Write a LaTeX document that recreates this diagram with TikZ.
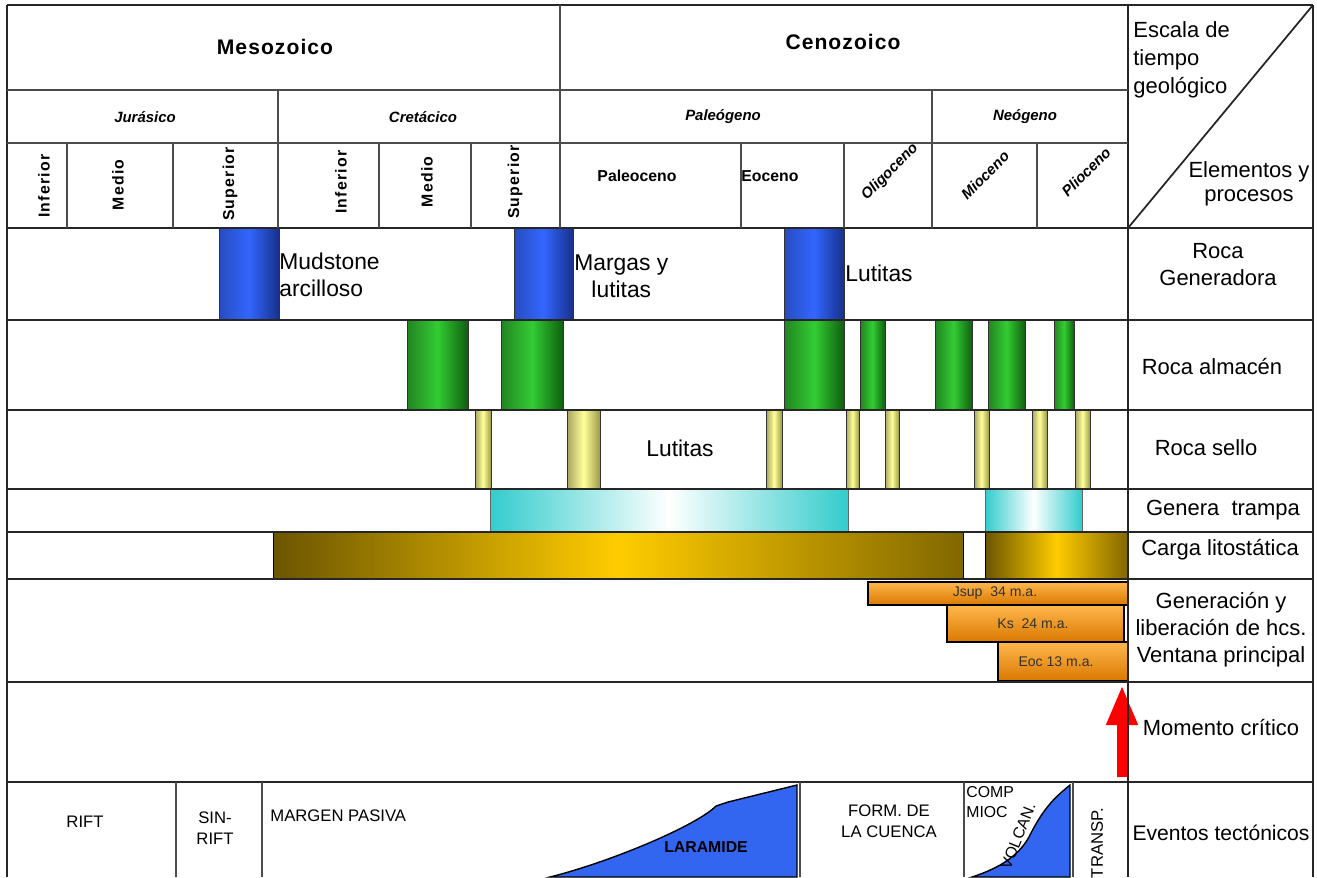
\documentclass[tikz,border=0pt]{standalone}
\usepackage{fontspec}
\setmainfont{Liberation Sans}
\usepackage{tikz}
\usetikzlibrary{arrows.meta}

\definecolor{genblue}{HTML}{3366FF}
\definecolor{genbluedk}{HTML}{17308A}
\definecolor{almgreen}{HTML}{33CC33}
\definecolor{almgreendk}{HTML}{0F5F0F}
\definecolor{sello}{HTML}{FFFF99}
\definecolor{sellodk}{HTML}{9A9A4A}
\definecolor{trampa}{HTML}{33CCCC}
\definecolor{carga}{HTML}{FFCC00}
\definecolor{cargadk}{HTML}{6B5500}
\definecolor{hcslt}{HTML}{FFB84D}
\definecolor{hcsdk}{HTML}{D97800}
\definecolor{tecblue}{HTML}{3366F0}

\begin{document}
\begin{tikzpicture}[x=0.02cm, y=-0.02cm,
		frame/.style={line width=1pt, draw=black!85},
		hline/.style={line width=0.7pt, draw=black!70},
		era/.style={font=\fontsize{12}{14}\selectfont\bfseries\addfontfeature{LetterSpace=5}},
		period/.style={font=\fontsize{8.5}{10}\selectfont\bfseries\itshape},
		epoch/.style={font=\fontsize{9}{11}\selectfont\bfseries\addfontfeature{LetterSpace=8}, rotate=90},
		epochh/.style={font=\fontsize{9}{11}\selectfont\bfseries},
		epochi/.style={font=\fontsize{8.5}{10}\selectfont\bfseries\itshape, rotate=45},
		side/.style={font=\fontsize{12.5}{15.4}\selectfont, align=center, inner sep=0pt},
		rocklbl/.style={font=\fontsize{13}{15.4}\selectfont, align=left, inner sep=0pt, anchor=west},
		tect/.style={font=\fontsize{9.5}{12}\selectfont, align=center, inner sep=0pt},
		hcslbl/.style={font=\fontsize{8}{10}\selectfont, text=black!80, inner sep=0pt},
		srcbar/.style={draw=black!80, line width=0.5pt, left color=genblue!75!black, right color=genbluedk, middle color=genblue},
		resbar/.style={draw=black!80, line width=0.5pt, left color=almgreen!65!black, right color=almgreendk, middle color=almgreen},
		sealbar/.style={draw=black!80, line width=0.5pt, left color=sello!65!black, right color=sellodk, middle color=sello},
		trapbar/.style={draw=black!60, line width=0.5pt, left color=trampa, right color=trampa, middle color=white},
		loadbar/.style={draw=black, line width=0.5pt, left color=cargadk, right color=cargadk!85!carga, middle color=carga},
		hcsbar/.style={draw=black, line width=0.7pt, top color=hcslt, bottom color=hcsdk},
		critarrow/.style={draw=red, line width=0.22cm, -{Triangle[length=0.8cm, width=0.58cm]}}
		]
		\useasboundingbox (0,0) rectangle (1317,877);
		\fill[white] (0,0) rectangle (1317,877);
		
		\shadedraw[srcbar] (219,228) rectangle (279,320);
		\shadedraw[srcbar] (514,228) rectangle (573,320);
		\shadedraw[srcbar] (784,228) rectangle (844,320);
		
		\shadedraw[resbar] (407,320) rectangle (468,410);
		\shadedraw[resbar] (501,320) rectangle (563,410);
		\shadedraw[resbar] (784,320) rectangle (844,410);
		\shadedraw[resbar] (860,320) rectangle (885,410);
		\shadedraw[resbar] (935,320) rectangle (972,410);
		\shadedraw[resbar] (988,320) rectangle (1025,410);
		\shadedraw[resbar] (1054,320) rectangle (1074,410);
		
		\shadedraw[sealbar] (475,410) rectangle (491,489);
		\shadedraw[sealbar] (567,410) rectangle (600,489);
		\shadedraw[sealbar] (766,410) rectangle (782,489);
		\shadedraw[sealbar] (846,410) rectangle (859,489);
		\shadedraw[sealbar] (885,410) rectangle (899,489);
		\shadedraw[sealbar] (974,410) rectangle (989,489);
		\shadedraw[sealbar] (1032,410) rectangle (1047,489);
		\shadedraw[sealbar] (1075,410) rectangle (1090,489);
		
		\shadedraw[trapbar] (490,489) rectangle (848,532);
		\shadedraw[trapbar] (985,489) rectangle (1082,532);
		
		\shadedraw[loadbar] (273,532) rectangle (963,579);
		\shadedraw[loadbar] (985,532) rectangle (1128,579);
		
		\shadedraw[hcsbar] (868,582) rectangle (1128,605);
		\shadedraw[hcsbar] (947,605) rectangle (1124,642);
		\shadedraw[hcsbar] (998,642) rectangle (1128,681);
		
		\coordinate (MCBOT) at (1122,777);
		\coordinate (MCTOP) at (1122,685);
		\draw[critarrow] (MCBOT) -- (MCTOP);
		
		\filldraw[fill=tecblue, draw=black, line width=0.8pt] (550,877) .. controls (610,862) and (696,826) .. (716,806) -- (728,802) -- (797,785) -- (797,877) -- cycle;
		\filldraw[fill=tecblue, draw=black, line width=0.8pt] (972,877) .. controls (1000,868) and (1020,855) .. (1030,835) .. controls (1045,805) and (1058,795) .. (1070,785) -- (1070,877) -- cycle;
		
		\draw[frame] (7,5) -- (1313,5);
		\draw[frame] (7,5) -- (7,877);
		\draw[frame] (1128,5) -- (1128,877);
		\draw[frame] (1313,5) -- (1313,877);
		\draw[frame] (1128,228) -- (1313,5);
		\draw[frame] (7,228) -- (1313,228) (7,320) -- (1313,320) (7,410) -- (1313,410) (7,489) -- (1313,489);
		\draw[frame] (7,532) -- (1313,532) (7,579) -- (1313,579) (7,682) -- (1313,682) (7,782) -- (1313,782);
		\draw[hline] (7,90) -- (1128,90) (7,143) -- (1128,143);
		\draw[hline] (560,5) -- (560,228);
		\draw[hline] (278,90) -- (278,228) (932,90) -- (932,228);
		\draw[hline] (67,143) -- (67,228) (173,143) -- (173,228) (379,143) -- (379,228) (471,143) -- (471,228);
		\draw[hline] (741,143) -- (741,228) (844,143) -- (844,228) (1037,143) -- (1037,228);
		\draw[hline] (176,782) -- (176,877) (262,782) -- (262,877) (800,782) -- (800,877);
		\draw[hline] (964,782) -- (964,877) (1073,782) -- (1073,877);
		
		\node[era](MESO) at (275,47){Mesozoico};
		\node[era](CENO) at (843,42){Cenozoico};
		\node[period](JUR) at (145,117){Jurásico};
		\node[period](CRET) at (423,117){Cretácico};
		\node[period](PALG) at (723,117){Paleógeno};
		\node[period](NEOG) at (1025,117){Neógeno};
		
		\node[epoch](JINF) at (44,186){Inferior};
		\node[epoch](JMED) at (118,185){Medio};
		\node[epoch](JSUP) at (230,184){Superior};
		\node[epoch](KINF) at (341,182){Inferior};
		\node[epoch](KMED) at (427,182){Medio};
		\node[epoch](KSUP) at (515,182){Superior};
		\node[epochh](PALC) at (637,176){Paleoceno};
		\node[epochh, anchor=west, inner sep=0pt](EOC) at (741,176){Eoceno};
		\node[epochi](OLIG) at (890,172){Oligoceno};
		\node[epochi](MIOC) at (985,175){Mioceno};
		\node[epochi](PLIO) at (1086,172){Plioceno};
		
		\node[side, align=left, anchor=north west, font=\fontsize{12.5}{16}\selectfont](ESC) at (1133,21){Escala de\\tiempo\\geológico};
		\node[side, font=\fontsize{12.5}{13.7}\selectfont](ELEM) at (1249,184){Elementos y\\procesos};
		\node[side](RGEN) at (1218,265){Roca\\Generadora};
		\node[side](RALM) at (1212,367){Roca almacén};
		\node[side](RSEL) at (1206,448){Roca sello};
		\node[side](TRAMPA) at (1223,510){Genera\ \ trampa};
		\node[side](CARGA) at (1220,550){Carga litostática};
		\node[side](GENHC) at (1221,630){Generación y\\liberación de hcs.\\Ventana principal};
		\node[side](MCRIT) at (1221,728){Momento crítico};
		\node[side, font=\fontsize{12}{14}\selectfont](EVTEC) at (1221,833){Eventos tectónicos};
		
		\node[rocklbl](MUD) at (279,275){Mudstone\\arcilloso};
		\node[rocklbl, align=center](MARG) at (574,276){Margas y\\lutitas};
		\node[rocklbl](LUT1) at (845,273){Lutitas};
		\node[rocklbl, anchor=center](LUT2) at (680,448){Lutitas};
		
		\node[hcslbl](JSUP34) at (995,593){Jsup\ \ 34 m.a.};
		\node[hcslbl](KS24) at (1033,624){Ks\ \ 24 m.a.};
		\node[hcslbl](EOC13) at (1056,662){Eoc 13 m.a.};
		
		\node[tect](RIFT) at (85,822){RIFT};
		\node[tect](SINR) at (215,828){SIN-\\RIFT};
		\node[tect, anchor=west](MPAS) at (270,816){MARGEN PASIVA};
		\node[tect, font=\fontsize{9}{11}\selectfont\bfseries](LARA) at (706,847){LARAMIDE};
		\node[tect](FCUE) at (889,821){FORM. DE\\LA CUENCA};
		\node[tect, align=left, anchor=north west, font=\fontsize{9}{11.5}\selectfont](COMP) at (966,786){COMP\\MIOC};
		\node[tect, rotate=68, font=\fontsize{9}{11}\selectfont](VOLC) at (1018,836){VOLCAN.};
		\node[tect, rotate=90](TRANSP) at (1097,843){TRANSP.};
\end{tikzpicture}
\end{document}
